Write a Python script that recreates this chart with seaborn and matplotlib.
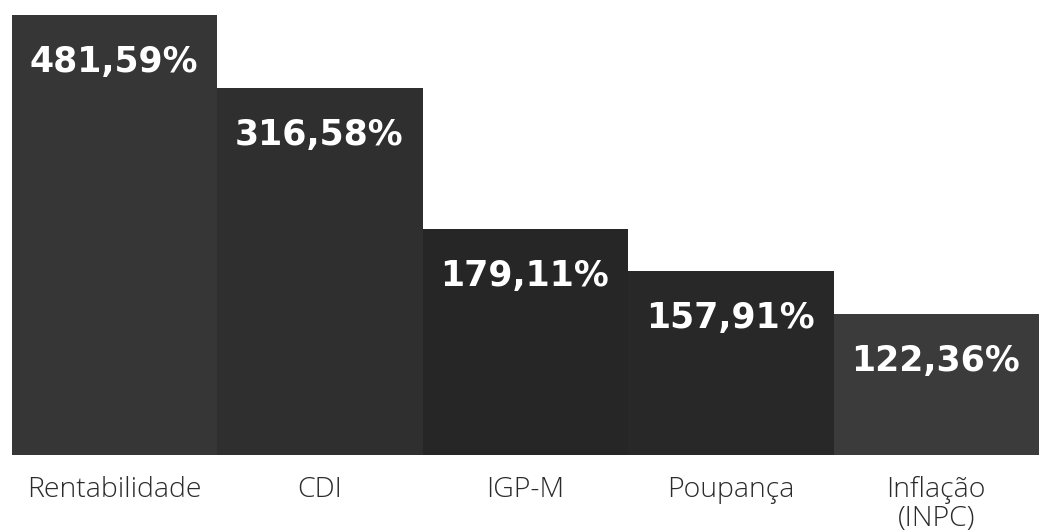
import matplotlib
matplotlib.use("Agg")
import matplotlib.pyplot as plt
import seaborn as sns
import pandas as pd

categories = ["Rentabilidade", "CDI", "IGP-M", "Poupança", "Inflação\n(INPC)"]
values = [481.59, 316.58, 179.11, 157.91, 122.36]
value_labels = ["481,59%", "316,58%", "179,11%", "157,91%", "122,36%"]
# drawn bar heights (the chart is not to scale)
bar_heights = [440, 367, 226, 184, 141]
bar_colors = ["#363636", "#2f2f2f", "#262626", "#282828", "#3b3b3b"]

df = pd.DataFrame({"categoria": categories, "altura": bar_heights})

sns.set_theme(style="white")
plt.rcParams["font.family"] = ["Open Sans", "DejaVu Sans"]

fig = plt.figure(figsize=(10.39, 5.32), dpi=100)
ax = fig.add_axes([12 / 1039, 77 / 532, 1027 / 1039, 440 / 532])

sns.barplot(data=df, x="categoria", y="altura", hue="categoria",
            palette=bar_colors, width=1.0, saturation=1, legend=False,
            edgecolor="none", ax=ax)

ax.set_xlim(-0.5, 4.5)
ax.set_ylim(0, 440)

for i, (h, lab) in enumerate(zip(bar_heights, value_labels)):
    ax.text(i - 0.5 + 0.085, h - 47, lab, ha="left", va="center",
            color="white", fontsize=25, fontweight="bold",
            family=["DejaVu Sans"])

ax.set_xlabel("")
ax.set_ylabel("")
ax.set_yticks([])
ax.tick_params(axis="x", length=0, pad=15, labelsize=20.5, colors="#2b2b2b")
for t in ax.get_xticklabels():
    t.set_fontweight("light")
    t.set_linespacing(1.05)
    t.set_verticalalignment("top")
for s in ax.spines.values():
    s.set_visible(False)

fig.savefig("out.png", dpi=100, facecolor="white")
